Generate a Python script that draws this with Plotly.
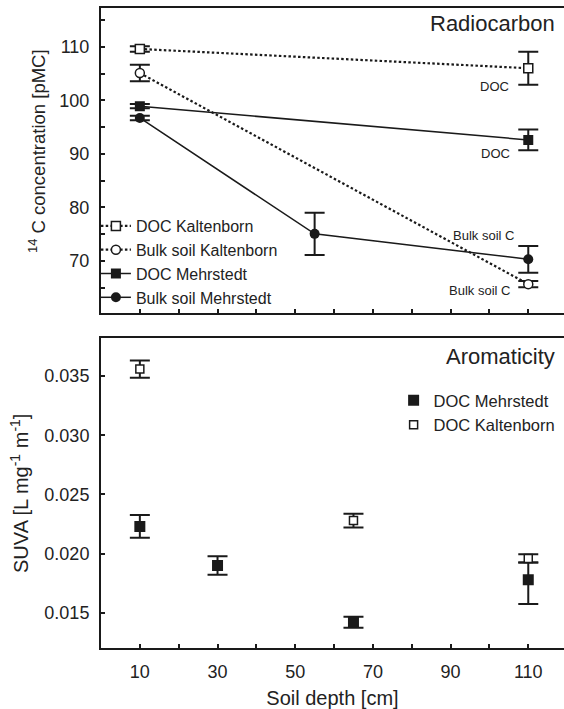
import plotly.graph_objects as go

# ---------------- data ----------------
# Radiocarbon (pMC)
depth_doc_kalt = [10, 110]
doc_kalt_c14 = [109.6, 106.0]
doc_kalt_c14_err = [0.5, 3.1]

depth_bulk_kalt = [10, 110]
bulk_kalt_c14 = [105.1, 65.65]
bulk_kalt_c14_err = [1.55, 0.6]

depth_doc_mehr = [10, 110]
doc_mehr_c14 = [98.9, 92.6]
doc_mehr_c14_err = [0.4, 1.95]

depth_bulk_mehr = [10, 55, 110]
bulk_mehr_c14 = [96.7, 75.05, 70.3]
bulk_mehr_c14_err = [0.4, 3.95, 2.5]

# Aromaticity (SUVA, L mg-1 m-1)
depth_suva_mehr = [10, 30, 65, 110]
suva_mehr = [0.0223, 0.0190, 0.0142, 0.0178]
suva_mehr_err_plus = [0.00096, 0.00078, 0.00047, 0.00146]
suva_mehr_err_minus = [0.00096, 0.00078, 0.00047, 0.00206]

depth_suva_kalt = [10, 65, 110]
suva_kalt = [0.0356, 0.0228, 0.0196]
suva_kalt_err = [0.00073, 0.00058, 0.00035]

x_tick_vals = [10, 30, 50, 70, 90, 110]
y_top_ticks = [70, 80, 90, 100, 110]
y_bot_ticks = [0.015, 0.020, 0.025, 0.030, 0.035]

# ---------------- style ----------------
INK = "#1a1a1a"
TXT = "#222222"
FONT = "Liberation Sans, Arial, sans-serif"
DOT = "2.5px,2.3px"

def err(vals, plus=None):
    d = dict(type="data", array=vals, visible=True, color=INK,
             thickness=2, width=10)
    if plus is not None:
        d = dict(type="data", array=plus, arrayminus=vals, symmetric=False,
                 visible=True, color=INK, thickness=2, width=10)
    return d

fig = go.Figure()

# ---- top panel ----
fig.add_trace(go.Scatter(
    x=depth_doc_kalt, y=doc_kalt_c14, name="DOC Kaltenborn",
    mode="lines+markers", xaxis="x", yaxis="y", legend="legend",
    line=dict(color=INK, width=2.2, dash=DOT),
    marker=dict(symbol="square", size=9, color="white",
                line=dict(color=INK, width=1.5)),
    error_y=err(doc_kalt_c14_err)))
fig.add_trace(go.Scatter(
    x=depth_bulk_kalt, y=bulk_kalt_c14, name="Bulk soil Kaltenborn",
    mode="lines+markers", xaxis="x", yaxis="y", legend="legend",
    line=dict(color=INK, width=2.2, dash=DOT),
    marker=dict(symbol="circle", size=9, color="white",
                line=dict(color=INK, width=1.5)),
    error_y=err(bulk_kalt_c14_err)))
fig.add_trace(go.Scatter(
    x=depth_doc_mehr, y=doc_mehr_c14, name="DOC Mehrstedt",
    mode="lines+markers", xaxis="x", yaxis="y", legend="legend",
    line=dict(color=INK, width=1.5),
    marker=dict(symbol="square", size=10, color=INK),
    error_y=err(doc_mehr_c14_err)))
fig.add_trace(go.Scatter(
    x=depth_bulk_mehr, y=bulk_mehr_c14, name="Bulk soil Mehrstedt",
    mode="lines+markers", xaxis="x", yaxis="y", legend="legend",
    line=dict(color=INK, width=1.5),
    marker=dict(symbol="circle", size=10, color=INK),
    error_y=err(bulk_mehr_c14_err)))

# ---- bottom panel ----
fig.add_trace(go.Scatter(
    x=depth_suva_mehr, y=suva_mehr, name="DOC Mehrstedt",
    mode="markers", xaxis="x2", yaxis="y2", legend="legend2",
    marker=dict(symbol="square", size=11, color=INK),
    error_y=err(suva_mehr_err_minus, suva_mehr_err_plus)))
fig.add_trace(go.Scatter(
    x=depth_suva_kalt, y=suva_kalt, name="DOC Kaltenborn",
    mode="markers", xaxis="x2", yaxis="y2", legend="legend2",
    marker=dict(symbol="square", size=8, color="white",
                line=dict(color=INK, width=1.5)),
    error_y=err(suva_kalt_err)))

# ---- labels next to the 110 cm points ----
labels = [
    ("DOC", 110, doc_kalt_c14[1], -17, -18),
    ("DOC", 110, doc_mehr_c14[1], -16, -14),
    ("Bulk soil C", 110, bulk_mehr_c14[2], -12, 24),
    ("Bulk soil C", 110, bulk_kalt_c14[1], -16, -6),
]
annotations = []
for txt, xv, yv, xs, ys in labels:
    annotations.append(dict(text=txt, x=xv, y=yv, xref="x", yref="y",
                            xanchor="right", yanchor="middle",
                            xshift=xs, yshift=ys, showarrow=False,
                            font=dict(size=13, color=TXT, family=FONT)))
annotations.append(dict(text="Radiocarbon", x=0.985, y=1 - 24 / 709,
                        xref="paper", yref="paper", xanchor="right",
                        yanchor="middle", showarrow=False,
                        font=dict(size=22, color=TXT, family=FONT)))
annotations.append(dict(text="Aromaticity", x=0.985, y=1 - 356 / 709,
                        xref="paper", yref="paper", xanchor="right",
                        yanchor="middle", showarrow=False,
                        font=dict(size=22, color=TXT, family=FONT)))
# top y-axis title
annotations.append(dict(text="<sup>14</sup> C concentration [pMC]",
                        x=(37 - 101) / 463, y=1 - 151 / 709,
                        xref="paper", yref="paper", xanchor="center",
                        yanchor="middle", textangle=-90, showarrow=False,
                        font=dict(size=18.5, color=TXT, family=FONT)))

axis_common = dict(showline=True, linecolor=INK, linewidth=2,
                   ticks="inside", ticklen=4, tickwidth=1.5, tickcolor=INK,
                   showgrid=False, zeroline=False,
                   tickfont=dict(size=18, color=TXT, family=FONT))

fig.update_layout(
    width=564, height=709,
    margin=dict(l=101, r=0, t=0, b=0),
    paper_bgcolor="white", plot_bgcolor="white",
    font=dict(family=FONT, color=TXT),
    xaxis=dict(axis_common, domain=[0, 1], range=[0, 119.2], anchor="y",
               mirror=True, tickvals=x_tick_vals, showticklabels=False,
               minor=dict(dtick=10, tick0=0, ticks="inside", ticklen=4,
                          tickwidth=1.5, tickcolor=INK)),
    yaxis=dict(axis_common, domain=[1 - 313.3 / 709, 1 - 8.3 / 709],
               range=[60.2, 117.2], anchor="x", tickvals=y_top_ticks,
               ticklabelstandoff=6,
               minor=dict(dtick=5, tick0=0, ticks="inside", ticklen=4,
                          tickwidth=1.5, tickcolor=INK)),
    xaxis2=dict(axis_common, domain=[0, 1], range=[0, 119.2], anchor="y2",
                mirror=True, tickvals=x_tick_vals, ticklabelstandoff=6,
                minor=dict(dtick=10, tick0=0, ticks="inside", ticklen=4,
                           tickwidth=1.5, tickcolor=INK),
                title=dict(text="Soil depth [cm]",
                           font=dict(size=20, color=TXT, family=FONT),
                           standoff=12)),
    yaxis2=dict(axis_common, domain=[1 - 648.3 / 709, 1 - 338.3 / 709],
                range=[0.0120, 0.0382], anchor="x2", tickvals=y_bot_ticks,
                tickformat=".3f", ticklabelstandoff=6,
                title=dict(text="SUVA [L mg<sup>-1</sup> m<sup>-1</sup>]",
                           font=dict(size=20, color=TXT, family=FONT),
                           standoff=10)),
    legend=dict(x=-0.011, y=1 - 209 / 709, xanchor="left", yanchor="top",
                bgcolor="rgba(0,0,0,0)", font=dict(size=16, color=TXT,
                                                   family=FONT),
                tracegroupgap=0),
    legend2=dict(x=0.632, y=1 - 383 / 709, xanchor="left", yanchor="top",
                 bgcolor="rgba(0,0,0,0)", font=dict(size=16.5, color=TXT,
                                                    family=FONT)),
    annotations=annotations,
    showlegend=True,
)

fig.write_html("out.html")
